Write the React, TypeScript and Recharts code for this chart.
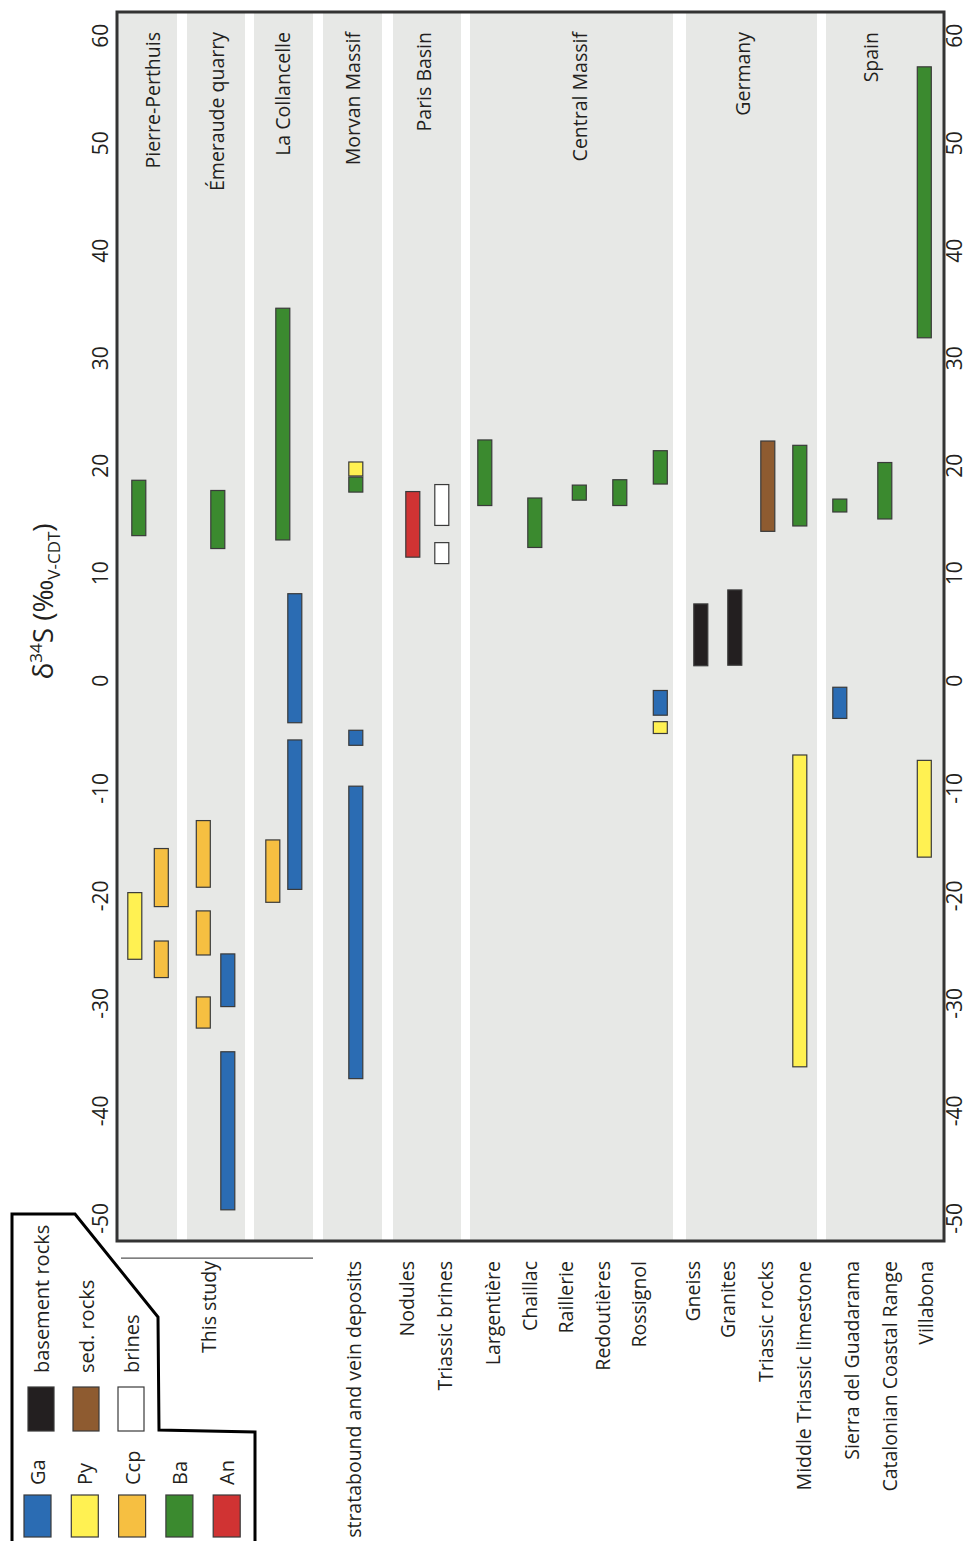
import {
  BarChart,
  Bar,
  Cell,
  XAxis,
  YAxis,
  ReferenceArea,
  ReferenceLine,
  Legend,
} from 'recharts'

// The figure is drawn landscape (δ34S across, sample rows down) and then
// turned a quarter turn counter-clockwise to match the portrait page.
const W = 1541
const H = 976
const FONT = "'Open Sans', sans-serif"
const INK = '#231f20'
const BAND = '#e7e8e6'
const BAR_THICK = 14

// δ34S axis (‰ V-CDT)
const valueDomain: [number, number] = [-52.1, 62.2]
const valueTicks = [-50, -40, -30, -20, -10, 0, 10, 20, 30, 40, 50, 60]

// rows are placed on a lane scale running from the top of the plot
const laneDomain: [number, number] = [0, 82.7]

// legend categories
const minerals = ['Ga', 'Py', 'Ccp', 'Ba', 'An']
const mineralColors = ['#2b6cb3', '#fff152', '#f6bf41', '#3b8a2f', '#d03333']
const rockTypes = ['basement rocks', 'sed. rocks', 'brines']
const rockColors = ['#231f20', '#8e5b30', '#ffffff']

// locality groups (grey bands)
const groups = ['Pierre-Perthuis', 'Émeraude quarry', 'La Collancelle', 'Morvan Massif', 'Paris Basin', 'Central Massif', 'Germany', 'Spain']
const groupFrom = [0, 7.0, 13.7, 20.6, 27.6, 35.3, 56.9, 70.9]
const groupTo = [6.0, 12.8, 19.6, 26.5, 34.4, 55.6, 70.0, 82.7]
const groupLabelLane = [3.6, 10.0, 16.6, 23.6, 30.7, 46.35, 62.6, 75.4]

// row labels on the left axis
const rowNames = [
  'This study', 'stratabound and vein deposits', 'Nodules', 'Triassic brines',
  'Largentière', 'Chaillac', 'Raillerie', 'Redoutières', 'Rossignol',
  'Gneiss', 'Granites', 'Triassic rocks', 'Middle Triassic limestone',
  'Sierra del Guadarama', 'Catalonian Coastal Range', 'Villabona',
]
const rowLanes = [9.2, 23.7, 29.0, 32.8, 37.6, 41.3, 44.9, 48.6, 52.25, 57.6, 61.15, 64.9, 68.7, 73.5, 77.3, 80.9]

// ranges: [lane, from, to]
type Span = [number, number, number]
const gaBars: Span[] = [
  [11.1, -30.3, -25.4], [11.1, -49.2, -34.5],
  [17.8, -3.9, 8.1], [17.8, -19.4, -5.5],
  [23.9, -6.0, -4.6], [23.9, -37.0, -9.8],
  [54.35, -3.2, -0.9], [72.3, -3.5, -0.6],
]
const pyBars: Span[] = [
  [1.8, -25.9, -19.7], [23.9, 19.05, 20.35], [54.35, -4.9, -3.8],
  [68.3, -35.9, -6.9], [80.75, -16.4, -7.4],
]
const ccpBars: Span[] = [
  [4.45, -21.0, -15.6], [4.45, -27.6, -24.2],
  [8.65, -19.2, -13.0], [8.65, -25.5, -21.4], [8.65, -32.3, -29.4],
  [15.6, -20.6, -14.8],
]
const baBars: Span[] = [
  [2.2, 13.5, 18.65], [10.1, 12.3, 17.7], [16.6, 13.1, 34.65], [23.9, 17.55, 18.95],
  [36.8, 16.3, 22.4], [41.8, 12.4, 17.0], [46.25, 16.8, 18.2], [50.3, 16.3, 18.7],
  [54.35, 18.3, 21.4], [68.3, 14.4, 21.9], [72.3, 15.7, 16.9], [76.8, 15.05, 20.3],
  [80.75, 31.9, 57.1],
]
const anBars: Span[] = [[29.6, 11.5, 17.6]]
const basementBars: Span[] = [[58.4, 1.4, 7.15], [61.8, 1.45, 8.45]]
const sedRockBars: Span[] = [[65.1, 13.9, 22.3]]
const brineBars: Span[] = [[32.5, 14.45, 18.25], [32.5, 10.9, 12.85]]

const series = [
  { bars: gaBars, color: mineralColors[0] },
  { bars: pyBars, color: mineralColors[1] },
  { bars: ccpBars, color: mineralColors[2] },
  { bars: baBars, color: mineralColors[3] },
  { bars: anBars, color: mineralColors[4] },
  { bars: basementBars, color: rockColors[0] },
  { bars: sedRockBars, color: rockColors[1] },
  { bars: brineBars, color: rockColors[2] },
]

const barData = series.flatMap((s) =>
  s.bars.map(([lane, lo, hi]) => ({ lane, range: [lo, hi], fill: s.color }))
)

// lanes sit close together, so recharts squeezes the band; keep the bar
// centred on its lane but give it the figure's thickness
function RangeBar(props: any) {
  const { x, y, width, height, fill } = props
  if (x == null || y == null) return null
  const cy = y + height / 2
  return (
    <rect
      x={x}
      y={cy - BAR_THICK / 2}
      width={width}
      height={BAR_THICK}
      fill={fill}
      stroke="#3a3a3a"
      strokeWidth={1.2}
    />
  )
}

function AxisTitle(props: any) {
  const vb = props.viewBox
  if (!vb) return null
  return (
    <text x={vb.x + vb.width / 2 + 25} y={vb.y + 53} textAnchor="middle" fontSize={28} fill={INK}>
      <tspan>δ</tspan>
      <tspan dy={-11} fontSize={17}>34</tspan>
      <tspan dy={11}>S (‰</tspan>
      <tspan dy={7} fontSize={17}>V-CDT</tspan>
      <tspan dy={-7}>)</tspan>
    </text>
  )
}

function KeyBox() {
  return (
    <svg width={340} height={262} style={{ overflow: 'visible', display: 'block' }}>
      <polyline
        points="-6,12 327,12 327,75 224,158 111,159 109,255 -6,255"
        fill="none"
        stroke="#000"
        strokeWidth={3}
        strokeLinejoin="miter"
      />
      {minerals.map((m, i) => {
        const y = 24 + i * 47.3
        return (
          <g key={m}>
            <rect x={4} y={y} width={42} height={27} fill={mineralColors[i]} stroke="#3a3a3a" strokeWidth={1.2} />
            <text x={56} y={y + 13.5} dominantBaseline="central" fontSize={20} fill={INK}>{m}</text>
          </g>
        )
      })}
      {rockTypes.map((r, i) => {
        const y = 28 + i * 45
        return (
          <g key={r}>
            <rect x={110} y={y} width={44} height={26} fill={rockColors[i]} stroke="#3a3a3a" strokeWidth={1.2} />
            <text x={168} y={y + 13} dominantBaseline="central" fontSize={20} fill={INK}>{r}</text>
          </g>
        )
      })}
    </svg>
  )
}

export default function App() {
  return (
    <div style={{ position: 'absolute', left: 0, top: 0, width: H, height: W, overflow: 'hidden', background: '#fff' }}>
      <div
        style={{
          position: 'absolute',
          left: 0,
          top: 0,
          width: W,
          height: H,
          transformOrigin: '0 0',
          transform: `translateY(${W}px) rotate(-90deg)`,
          fontFamily: FONT,
        }}
      >
        <BarChart width={W} height={H} data={barData} layout="vertical" margin={{ top: 0, right: 12, bottom: 0, left: 0 }}>
          {/* grey locality bands */}
          {groups.map((g, i) => (
            <ReferenceArea
              key={g}
              x1={valueDomain[0]}
              x2={valueDomain[1]}
              y1={groupFrom[i]}
              y2={groupTo[i]}
              fill={BAND}
              fillOpacity={1}
              stroke="none"
              ifOverflow="extendDomain"
            />
          ))}

          <XAxis
            type="number"
            dataKey="range"
            domain={valueDomain}
            ticks={valueTicks}
            allowDataOverflow
            height={32}
            tickSize={0}
            tickMargin={3}
            axisLine={false}
            tickLine={false}
            tick={{ fill: INK, fontSize: 21 }}
            interval={0}
          />
          <XAxis
            xAxisId="top"
            orientation="top"
            type="number"
            domain={valueDomain}
            ticks={valueTicks}
            allowDataOverflow
            height={117}
            tickSize={0}
            tickMargin={9}
            axisLine={false}
            tickLine={false}
            tick={{ fill: INK, fontSize: 21 }}
            interval={0}
            label={(p: any) => <AxisTitle {...p} />}
          />
          <YAxis
            type="number"
            dataKey="lane"
            domain={laneDomain}
            allowDataOverflow
            ticks={rowLanes}
            interval={0}
            width={300}
            tickSize={0}
            tickMargin={20}
            axisLine={false}
            tickLine={false}
            tick={{ fill: INK, fontSize: 19.5 }}
            tickFormatter={(v: number) => rowNames[rowLanes.indexOf(v)] ?? ''}
          />

          {/* bracket over the "This study" rows */}
          <ReferenceLine
            segment={[{ x: -53.7, y: 0.4 }, { x: -53.7, y: 19.6 }]}
            stroke="#555"
            strokeWidth={1.2}
            ifOverflow="visible"
          />

          <Bar dataKey="range" barSize={BAR_THICK} isAnimationActive={false} shape={(p: any) => <RangeBar {...p} />}>
            {barData.map((d, i) => (
              <Cell key={i} fill={d.fill} />
            ))}
          </Bar>

          {/* plot frame */}
          <ReferenceArea
            x1={valueDomain[0]}
            x2={valueDomain[1]}
            y1={laneDomain[0]}
            y2={laneDomain[1]}
            fill="none"
            stroke="#333"
            strokeWidth={3}
          />

          {groups.map((g, i) => (
            <ReferenceLine
              key={`lbl-${g}`}
              y={groupLabelLane[i]}
              stroke="none"
              strokeWidth={0}
              label={{ value: g, position: 'insideRight', offset: 20, fill: INK, fontSize: 19.5 }}
            />
          ))}

          <Legend
            layout="horizontal"
            verticalAlign="middle"
            align="center"
            content={() => <KeyBox />}
            wrapperStyle={{ position: 'absolute', left: 0, top: 0, width: 340, height: 262 }}
          />
        </BarChart>
      </div>
    </div>
  )
}
